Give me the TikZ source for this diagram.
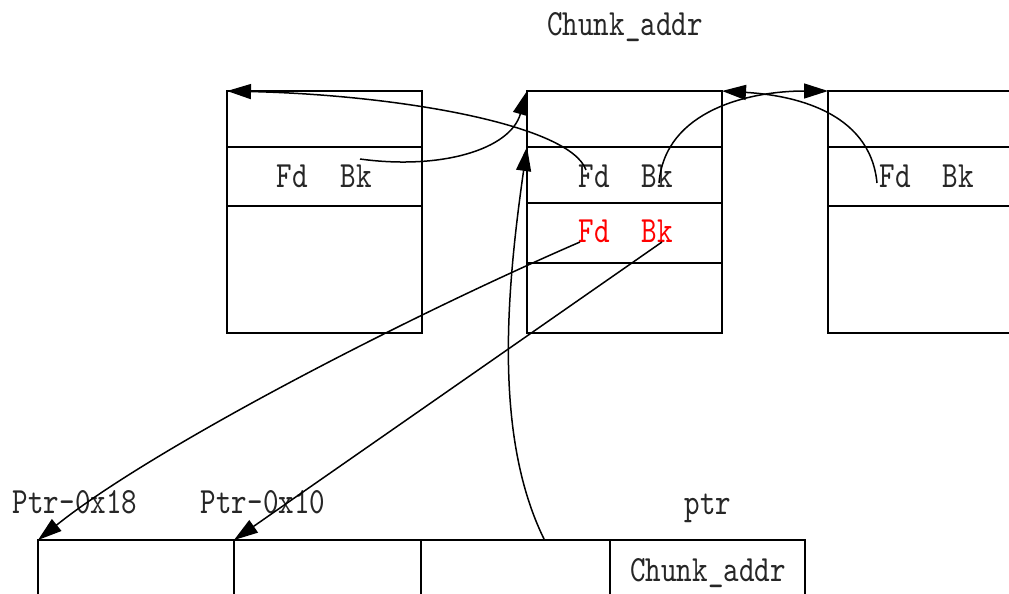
\documentclass[tikz,border=0pt]{standalone}
\usepackage{fontspec}
\newfontfamily\heapfont[FakeStretch=0.8]{lmmono10-regular.otf}
\usetikzlibrary{arrows.meta,positioning}
\tikzset{
  >={Triangle[length=24pt,width=15pt]},
  cell/.style={draw,line width=1.5pt,minimum width=195pt,inner sep=0pt,outer sep=0pt,anchor=north west},
  lab/.style={font=\heapfont\fontsize{37}{40}\selectfont,inner sep=0pt,anchor=base,text=black!85},
  rlab/.style={lab,text=red},
  arr/.style={->,line width=1.5pt},
}
\begin{document}
\begin{tikzpicture}[x=1pt,y=-1pt]
\clip (0,0) rectangle (1009,594);
% chunk on the left
\node[cell,minimum height=56pt] (c1a) at (227,91) {};
\node[cell,minimum height=59pt,below=0pt of c1a] (c1b) {};
\node[cell,minimum height=127pt,below=0pt of c1b] (c1c) {};
% middle chunk
\node[cell,minimum height=56pt] (c2a) at (527,91) {};
\node[cell,minimum height=56pt,below=0pt of c2a] (c2b) {};
\node[cell,minimum height=60pt,below=0pt of c2b] (c2c) {};
\node[cell,minimum height=70pt,below=0pt of c2c] (c2d) {};
% chunk on the right
\node[cell,minimum height=56pt] (c3a) at (828,91) {};
\node[cell,minimum height=59pt,below=0pt of c3a] (c3b) {};
\node[cell,minimum height=127pt,below=0pt of c3b] (c3c) {};
% fd / bk fields
\node[lab] (c1fd) at (292,187) {Fd};
\node[lab] (c1bk) at (356,187) {Bk};
\node[lab] (c2fd) at (594,187) {Fd};
\node[lab] (c2bk) at (657,187) {Bk};
\node[rlab] (rfd) at (594,242) {Fd};
\node[rlab] (rbk) at (657,242) {Bk};
\node[lab] (c3fd) at (895,187) {Fd};
\node[lab] (c3bk) at (958,187) {Bk};
\node[lab] (addr) at (625,36) {Chunk\_addr};
% bottom row
\node[cell,minimum width=196pt,minimum height=60pt] (b1) at (38,540) {};
\node[cell,minimum width=187pt,minimum height=60pt,right=0pt of b1] (b2) {};
\node[cell,minimum width=189pt,minimum height=60pt,right=0pt of b2] (b3) {};
\node[cell,minimum width=195pt,minimum height=60pt,right=0pt of b3] (b4) {};
\node[lab] (b4txt) at (708,581) {Chunk\_addr};
\node[lab] (p18) at (75,513) {Ptr-0x18};
\node[lab] (p10) at (263,513) {Ptr-0x10};
\node[lab] (ptr) at (708,514) {ptr};
% links
\draw[arr] ([xshift=-8pt,yshift=17pt]c2fd.base) .. controls (570,125) and (400,95) .. (c1a.north west);
\draw[arr] ([xshift=4pt,yshift=28pt]c1bk.base) .. controls (440,170) and (510,150) .. (c2a.north west);
\draw[arr] ([xshift=29pt]b3.north) .. controls (495,440) and (505,300) .. (c2b.north west);
\draw[arr] ([xshift=2pt,yshift=4pt]c2bk.base) .. controls (665,110) and (750,91) .. (c3a.north west);
\draw[arr] ([xshift=-18pt,yshift=4pt]c3fd.base) .. controls (870,110) and (790,95) .. (c2a.north east);
\draw[arr] ([xshift=-14pt]rfd.base) .. controls (400,320) and (150,450) .. (b1.north west);
\draw[arr] ([xshift=5pt]rbk.base) -- (b2.north west);
\end{tikzpicture}
\end{document}
